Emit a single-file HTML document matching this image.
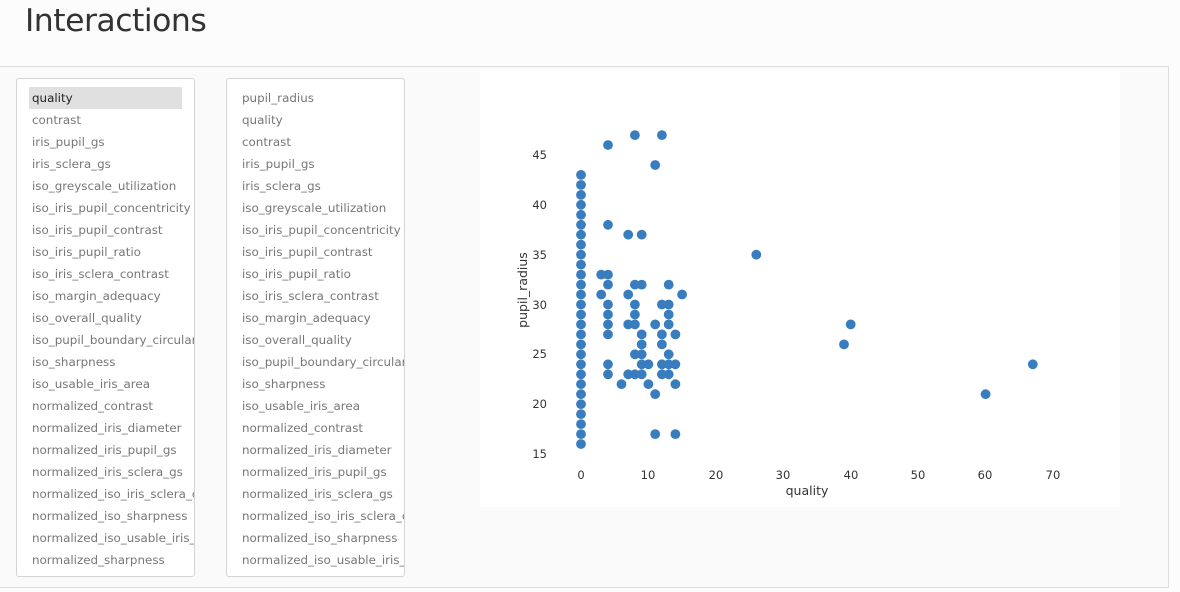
<!DOCTYPE html>
<html><head><meta charset="utf-8"><style>
body{margin:0;width:1180px;height:592px;background:#fcfcfc;font-family:"Liberation Sans","DejaVu Sans",sans-serif;position:relative;overflow:hidden}
h1{position:absolute;left:25px;top:3px;margin:0;font-weight:normal;font-size:31.5px;color:#333;font-family:"DejaVu Sans","Liberation Sans",sans-serif;letter-spacing:-0.5px}
.outer{position:absolute;left:-1px;top:66px;width:1168px;height:520px;border:1px solid #ddd;background:#fafafa}
.list{position:absolute;top:78px;width:177px;height:497px;border:1px solid #d4d4d4;border-radius:3px;background:#fff;overflow:hidden}
.list div{height:22px;line-height:22px;color:#777;padding-left:15px;white-space:nowrap;overflow:hidden;font-family:"DejaVu Sans",sans-serif;font-size:11.9px}
.list div.sel{background:#e0e0e0;color:#222;margin-left:12px;padding-left:3px;width:150px}
.chart{position:absolute;left:480px;top:70px;width:640px;height:437px;background:#fff}
</style></head><body>
<h1>Interactions</h1>
<div class="outer"></div>
<div class="list" style="left:16px;padding-top:8px;height:489px">
<div class="sel">quality</div><div>contrast</div><div>iris_pupil_gs</div><div>iris_sclera_gs</div><div>iso_greyscale_utilization</div><div>iso_iris_pupil_concentricity</div><div>iso_iris_pupil_contrast</div><div>iso_iris_pupil_ratio</div><div>iso_iris_sclera_contrast</div><div>iso_margin_adequacy</div><div>iso_overall_quality</div><div>iso_pupil_boundary_circularity</div><div>iso_sharpness</div><div>iso_usable_iris_area</div><div>normalized_contrast</div><div>normalized_iris_diameter</div><div>normalized_iris_pupil_gs</div><div>normalized_iris_sclera_gs</div><div>normalized_iso_iris_sclera_contrast</div><div>normalized_iso_sharpness</div><div>normalized_iso_usable_iris_area</div><div>normalized_sharpness</div>
</div>
<div class="list" style="left:226px;padding-top:8px;height:489px">
<div>pupil_radius</div><div>quality</div><div>contrast</div><div>iris_pupil_gs</div><div>iris_sclera_gs</div><div>iso_greyscale_utilization</div><div>iso_iris_pupil_concentricity</div><div>iso_iris_pupil_contrast</div><div>iso_iris_pupil_ratio</div><div>iso_iris_sclera_contrast</div><div>iso_margin_adequacy</div><div>iso_overall_quality</div><div>iso_pupil_boundary_circularity</div><div>iso_sharpness</div><div>iso_usable_iris_area</div><div>normalized_contrast</div><div>normalized_iris_diameter</div><div>normalized_iris_pupil_gs</div><div>normalized_iris_sclera_gs</div><div>normalized_iso_iris_sclera_contrast</div><div>normalized_iso_sharpness</div><div>normalized_iso_usable_iris_area</div>
</div>
<div class="chart"></div>
<svg id="s" width="1180" height="592" style="position:absolute;left:0;top:0" font-family="DejaVu Sans, sans-serif" font-size="11.5" fill="#333">
<g text-anchor="end">
<text x="547" y="458">15</text><text x="547" y="408">20</text><text x="547" y="358">25</text><text x="547" y="309">30</text><text x="547" y="259">35</text><text x="547" y="209">40</text><text x="547" y="159">45</text>
</g>
<g text-anchor="middle">
<text x="581" y="479">0</text><text x="648" y="479">10</text><text x="716" y="479">20</text><text x="783" y="479">30</text><text x="851" y="479">40</text><text x="918" y="479">50</text><text x="985" y="479">60</text><text x="1053" y="479">70</text>
<text x="807" y="495" font-size="12.5">quality</text>
<text transform="translate(527,290) rotate(-90)" font-size="12.5">pupil_radius</text>
</g>
<g id="pts" fill="#3a7dbf"></g>
</svg>
<script>
var p=[[4,46],[8,47],[12,47],[11,44],[4,38],[7,37],[9,37],[3,33],[4,33],[4,32],[8,32],[9,32],[13,32],[3,31],[7,31],[15,31],[4,30],[8,30],[12,30],[13,30],[4,29],[8,29],[13,29],[4,28],[7,28],[8,28],[11,28],[13,28],[4,27],[9,27],[12,27],[14,27],[9,26],[12,26],[8,25],[9,25],[13,25],[4,24],[9,24],[10,24],[12,24],[13,24],[14,24],[4,23],[7,23],[8,23],[9,23],[12,23],[13,23],[6,22],[10,22],[14,22],[11,21],[11,17],[14,17],[26,35],[40,28],[39,26],[67,24],[60,21]];
for(var v=16;v<=43;v++)p.push([0,v]);
var g=document.getElementById('pts'),h='';
p.forEach(function(d){h+='<circle cx="'+(581+d[0]*6.743).toFixed(1)+'" cy="'+(454-(d[1]-15)*9.967).toFixed(1)+'" r="4.9"/>';});
g.innerHTML=h;
</script>
</body></html>
